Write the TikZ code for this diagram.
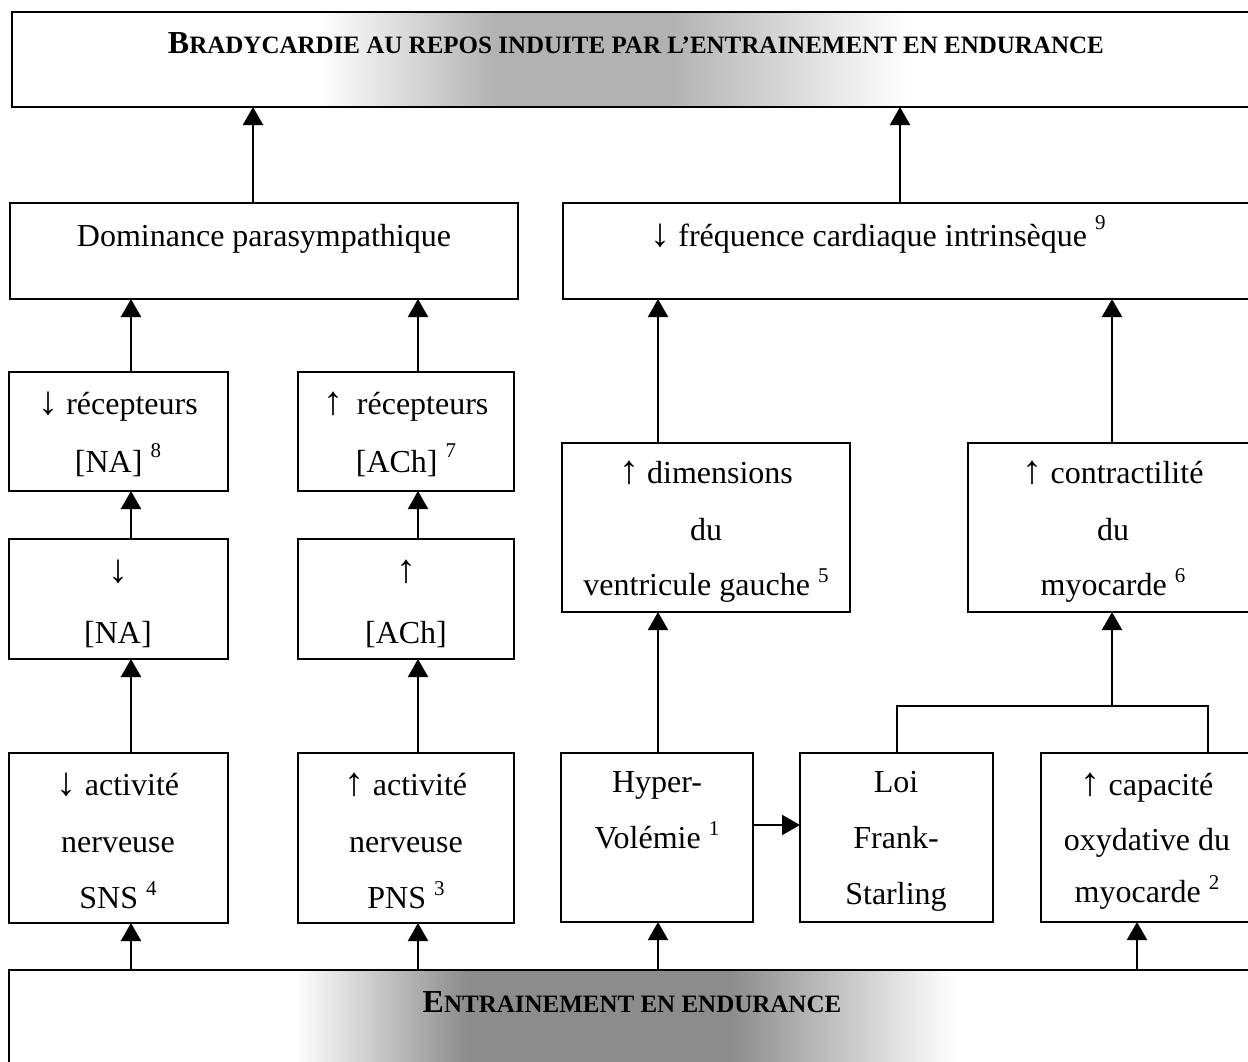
\documentclass[tikz,border=0pt]{standalone}
\usepackage{fontspec}
\setmainfont{Liberation Serif}
\usetikzlibrary{arrows.meta}
\newcommand\myexp[2][13pt]{\raisebox{#1}{\fontsize{21}{21}\selectfont #2}}
\newcommand\myinitial[1]{{\fontsize{32}{32}\selectfont #1}}
\newcommand\dnarr{{\fontsize{40}{40}\selectfont ↓}}
\newcommand\uparr{{\fontsize{40}{40}\selectfont ↑}}
\pgfdeclarehorizontalshading{scantop}{100bp}{color(0bp)=(white); color(25bp)=(white); color(40bp)=(black!30); color(55bp)=(black!30); color(75bp)=(white); color(100bp)=(white)}
\pgfdeclarehorizontalshading{scanbot}{100bp}{color(0bp)=(white); color(25bp)=(white); color(38bp)=(black!45); color(58bp)=(black!45); color(75bp)=(white); color(100bp)=(white)}
\begin{document}
\begin{tikzpicture}[x=1pt,y=-1pt,
  box/.style={draw=black, line width=2.4pt, rectangle, inner sep=0pt, outer sep=0pt},
  txt/.style={anchor=base, inner sep=0pt, font=\fontsize{32}{38}\selectfont},
  ttl/.style={anchor=base, inner sep=0pt, font=\bfseries\fontsize{25}{25}\selectfont},
  conn/.style={line width=2pt, draw=black},
  arr/.style={conn, -{Triangle[width=20pt,length=18pt]}}
]
\useasboundingbox (0,0) rectangle (1248,1061);
\clip (0,0) rectangle (1248,1061);
\fill[white] (0,0) rectangle (1248,1061);
% scan shadings
\shade[shading=scantop] (318,13) rectangle (908,106);
\shade[shading=scanbot] (295,971) rectangle (955,1061);

% boxes
\node[box, minimum width=1244pt, minimum height=95pt] (title) at (634,59.5) {};
\node[box, minimum width=508pt, minimum height=96pt] (dom) at (264,251) {};
\node[box, minimum width=693pt, minimum height=96pt] (freq) at (909.5,251) {};
\node[box, minimum width=219pt, minimum height=119pt] (recna) at (118.5,431.5) {};
\node[box, minimum width=216pt, minimum height=119pt] (recach) at (406,431.5) {};
\node[box, minimum width=219pt, minimum height=120pt] (na) at (118.5,599) {};
\node[box, minimum width=216pt, minimum height=120pt] (ach) at (406,599) {};
\node[box, minimum width=219pt, minimum height=170pt] (sns) at (118.5,838) {};
\node[box, minimum width=216pt, minimum height=170pt] (pns) at (406,838) {};
\node[box, minimum width=192pt, minimum height=169pt] (hyper) at (657,837.5) {};
\node[box, minimum width=193pt, minimum height=169pt] (loi) at (896.5,837.5) {};
\node[box, minimum width=215pt, minimum height=169pt] (cap) at (1148.5,837.5) {};
\node[box, minimum width=288pt, minimum height=169pt] (dim) at (706,527.5) {};
\node[box, minimum width=290pt, minimum height=169pt] (con) at (1113,527.5) {};
\node[box, minimum width=1247pt, minimum height=120pt] (entr) at (632.5,1030) {};

% texts
\node[ttl] (ttitle) at (636,53) {\myinitial{B}RADYCARDIE AU REPOS INDUITE PAR L’ENTRAINEMENT EN ENDURANCE};
\node[ttl] (tentr) at (632,1012) {\myinitial{E}NTRAINEMENT EN ENDURANCE};
\node[txt] (tdom) at (264,246) {Dominance parasympathique};
\node[txt] (tfreq) at (878,246) {\dnarr\ fréquence cardiaque intrinsèque \myexp[17pt]{9}};

\node[txt] (trna1) at (118,414) {\dnarr\ récepteurs};
\node[txt] (trna2) at (118,472) {[NA] \myexp[15pt]{8}};
\node[txt] (trach1) at (406,414) {\uparr\ \,récepteurs};
\node[txt] (trach2) at (406,472) {[ACh] \myexp[15pt]{7}};
\node[txt] (tna1) at (118,582) {\dnarr};
\node[txt] (tna2) at (118,643) {[NA]};
\node[txt] (tach1) at (406,582) {\uparr};
\node[txt] (tach2) at (406,643) {[ACh]};

\node[txt] (tsns1) at (118,795) {\dnarr\ activité};
\node[txt] (tsns2) at (118,852) {nerveuse};
\node[txt] (tsns3) at (118,908) {SNS \myexp{4}};
\node[txt] (tpns1) at (406,795) {\uparr\ activité};
\node[txt] (tpns2) at (406,852) {nerveuse};
\node[txt] (tpns3) at (406,908) {PNS \myexp{3}};

\node[txt] (thy1) at (657,792) {Hyper-};
\node[txt] (thy2) at (657,848) {Volémie \myexp{1}};
\node[txt] (tloi1) at (896,792) {Loi};
\node[txt] (tloi2) at (896,848) {Frank-};
\node[txt] (tloi3) at (896,904) {Starling};
\node[txt] (tcap1) at (1147,795) {\uparr\ capacité};
\node[txt] (tcap2) at (1147,850) {oxydative du};
\node[txt] (tcap3) at (1147,902) {myocarde \myexp{2}};

\node[txt] (tdim1) at (706,483) {\uparr\ dimensions};
\node[txt] (tdim2) at (706,540) {du};
\node[txt] (tdim3) at (706,595) {ventricule gauche \myexp{5}};
\node[txt] (tcon1) at (1113,483) {\uparr\ contractilité};
\node[txt] (tcon2) at (1113,540) {du};
\node[txt] (tcon3) at (1113,595) {myocarde \myexp{6}};

% connector x positions
\coordinate (cA) at (131,0);
\coordinate (cB) at (418,0);
\coordinate (cC) at (253,0);
\coordinate (cD) at (900,0);
\coordinate (cE) at (658,0);
\coordinate (cF) at (1112,0);
\coordinate (cG) at (1137,0);
\coordinate (hl) at (0,825);
\coordinate (bl) at (897,706);
\coordinate (bm) at (1112,706);
\coordinate (br) at (1208,706);

% connectors
\draw[arr] (dom.north -| cC) -- (title.south -| cC);
\draw[arr] (freq.north -| cD) -- (title.south -| cD);
\draw[arr] (recna.north -| cA) -- (dom.south -| cA);
\draw[arr] (recach.north -| cB) -- (dom.south -| cB);
\draw[arr] (na.north -| cA) -- (recna.south -| cA);
\draw[arr] (ach.north -| cB) -- (recach.south -| cB);
\draw[arr] (sns.north -| cA) -- (na.south -| cA);
\draw[arr] (pns.north -| cB) -- (ach.south -| cB);
\draw[arr] (entr.north -| cA) -- (sns.south -| cA);
\draw[arr] (entr.north -| cB) -- (pns.south -| cB);
\draw[arr] (entr.north -| cE) -- (hyper.south -| cE);
\draw[arr] (entr.north -| cG) -- (cap.south -| cG);
\draw[arr] (hyper.north -| cE) -- (dim.south -| cE);
\draw[arr] (dim.north -| cE) -- (freq.south -| cE);
\draw[arr] (con.north -| cF) -- (freq.south -| cF);
\draw[arr] (hyper.east |- hl) -- (loi.west |- hl);
\draw[conn] (loi.north -| bl) -- (bl) -- (br) -- (cap.north -| br);
\draw[arr] (bm) -- (con.south -| bm);
\end{tikzpicture}
\end{document}
